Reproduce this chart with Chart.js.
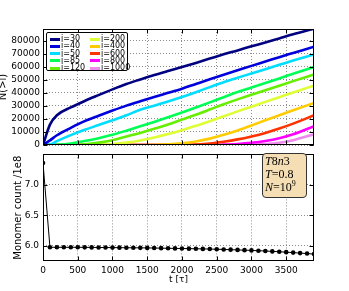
<!DOCTYPE html>
<html>
<head>
<meta charset="utf-8">
<script src="https://cdn.jsdelivr.net/npm/chart.js@4.4.0/dist/chart.umd.min.js"></script>
<style>
  body { margin: 0; background: #fff; }
  #wrap { position: relative; width: 349px; height: 291px; overflow: hidden; font-family: "DejaVu Sans", sans-serif; }
  .box { position: absolute; left: 0; width: 349px; }
  #legend { position: absolute; left: 46px; top: 32px; width: 80px; height: 37px; border: 1px solid #000; border-radius: 2px; background: #fff; }
  .item { position: absolute; font-size: 8px; line-height: 8px; color: #000; white-space: nowrap; }
  .swatch { position: absolute; width: 10px; height: 3px; }
  #note { position: absolute; left: 262px; top: 153px; width: 45px; height: 45px; border: 1px solid #333; border-radius: 4px; background: #f5deb3;
          font-family: "Liberation Serif", serif; font-size: 12px; line-height: 13px; padding: 1px 0 0 2px; box-sizing: border-box; }
  #note i { font-style: italic; }
  #note sup { font-size: 8px; line-height: 0; vertical-align: 5px; }
</style>
</head>
<body>
<div id="wrap">
  <div class="box" style="top:0;height:155px"><canvas id="topChart"></canvas></div>
  <div class="box" style="top:145px;height:146px"><canvas id="botChart"></canvas></div>
  <div id="legend"></div>
  <div id="note"><i>T</i>8<i>n</i>3<br><i>T</i>=0.8<br><i>N</i>=10<sup>9</sup></div>
</div>
<script>
// Top panel: N(>i) for each cluster size i
const iSizes = [30, 40, 50, 85, 120, 200, 400, 600, 800, 1000];
const colors = ["#000080", "#0000dd", "#00ddff", "#00ff55", "#66ee00",
                "#ddff33", "#ffcc00", "#ff3300", "#ff00ff", "#ee88ee"];
const tTop = [0, 100, 200, 400, 600, 800, 1000, 1200, 1400, 1600, 1800, 2000, 2200, 2400, 2600, 2800, 3000, 3200, 3400, 3600, 3900];
const n30   = [0, 15600, 22800, 28800, 33800, 38300, 42700, 46800, 50300, 53700, 56800, 59800, 63000, 66300, 69600, 72600, 75700, 78700, 81800, 84900, 89200];
const n40   = [0, 3500, 7500, 13200, 18300, 22400, 26400, 30200, 33600, 36900, 40000, 43200, 46800, 50400, 53900, 57300, 60700, 64000, 67400, 70600, 75400];
const n50   = [0, 300, 3000, 7600, 11700, 15300, 19000, 22800, 27000, 30200, 33400, 36800, 40500, 44400, 48200, 51600, 54900, 58200, 61500, 64800, 69500];
const n85   = [0, 0, 200, 1200, 3000, 5200, 7800, 11000, 14400, 17700, 21300, 25000, 28800, 32700, 36700, 40600, 44100, 47600, 51100, 54700, 59800];
const n120  = [0, 0, 0, 100, 600, 1800, 3700, 6500, 9300, 12400, 15800, 19500, 23200, 27200, 31300, 35000, 38500, 42000, 45500, 49000, 54100];
const n200  = [0, 0, 0, 0, 0, 200, 700, 1800, 3500, 5800, 8400, 11400, 14700, 18300, 22000, 25800, 29400, 33100, 36700, 40300, 45600];
const n400  = [0, 0, 0, 0, 0, 0, 0, 0, 0, 100, 500, 1300, 2700, 4900, 7800, 11200, 15000, 19000, 22800, 26600, 32300];
const n600  = [0, 0, 0, 0, 0, 0, 0, 0, 0, 0, 0, 100, 400, 1100, 2500, 4300, 6600, 9300, 12600, 16400, 22800];
const n800  = [0, 0, 0, 0, 0, 0, 0, 0, 0, 0, 0, 0, 0, 0, 300, 800, 1700, 3100, 5200, 8200, 14400];
const n1000 = [0, 0, 0, 0, 0, 0, 0, 0, 0, 0, 0, 0, 0, 0, 0, 0, 200, 700, 1700, 3700, 8200];
const topSeries = [n30, n40, n50, n85, n120, n200, n400, n600, n800, n1000];

// Bottom panel: monomer count / 1e8
const tMono = [0, 100, 200, 300, 400, 500, 600, 700, 800, 900, 1000, 1100, 1200, 1300, 1400, 1500, 1600, 1700, 1800, 1900,
               2000, 2100, 2200, 2300, 2400, 2500, 2600, 2700, 2800, 2900, 3000, 3100, 3200, 3300, 3400, 3500, 3600, 3700, 3800, 3900];
const mono = [7.36, 5.975, 5.975, 5.975, 5.975, 5.975, 5.974, 5.973, 5.972, 5.971, 5.970, 5.969, 5.968, 5.967, 5.966, 5.965, 5.963, 5.961, 5.959, 5.957,
              5.955, 5.953, 5.951, 5.949, 5.946, 5.943, 5.940, 5.936, 5.932, 5.928, 5.924, 5.919, 5.914, 5.908, 5.902, 5.895, 5.888, 5.880, 5.872, 5.864];

// Ticks
const xTicks = [0, 500, 1000, 1500, 2000, 2500, 3000, 3500];
const topYTicks = [0, 10000, 20000, 30000, 40000, 50000, 60000, 70000, 80000];
const botYTicks = [6.0, 6.5, 7.0];

const tickFont = { family: "DejaVu Sans", size: 9 };
const gridOpts = { color: "rgba(0,0,0,0.45)", lineWidth: 1, drawTicks: false, borderDash: [1, 2] };
const borderOpts = { display: false, dash: [1, 2] };

// matplotlib style box frame with inward ticks
const framePlugin = {
  id: "frame",
  afterDatasetsDraw(chart) {
    const { ctx, chartArea: a, scales } = chart;
    const L = Math.round(a.left) + 0.5, R = Math.round(a.right) - 0.5;
    const T = Math.round(a.top) + 0.5, B = Math.round(a.bottom) - 0.5;
    ctx.save();
    ctx.strokeStyle = "#000";
    ctx.lineWidth = 1;
    ctx.beginPath();
    scales.x.ticks.forEach((t) => {
      const px = Math.round(scales.x.getPixelForValue(t.value)) + 0.5;
      ctx.moveTo(px, B); ctx.lineTo(px, B - 4);
      ctx.moveTo(px, T); ctx.lineTo(px, T + 4);
    });
    scales.y.ticks.forEach((t) => {
      const py = Math.round(scales.y.getPixelForValue(t.value)) + 0.5;
      ctx.moveTo(L, py); ctx.lineTo(L + 4, py);
      ctx.moveTo(R, py); ctx.lineTo(R - 4, py);
    });
    ctx.stroke();
    ctx.strokeRect(L, T, R - L, B - T);
    ctx.restore();
  },
};

function setTicks(list) {
  return (scale) => { scale.ticks = list.map((v) => ({ value: v })); };
}

new Chart(document.getElementById("topChart"), {
  type: "line",
  data: {
    datasets: topSeries.map((s, k) => ({
      label: "i=" + iSizes[k],
      data: s.map((v, j) => ({ x: tTop[j], y: v })),
      borderColor: colors[k],
      borderWidth: 2.6,
      pointRadius: 0,
      cubicInterpolationMode: "monotone",
      fill: false,
    })),
  },
  options: {
    responsive: true,
    maintainAspectRatio: false,
    animation: false,
    layout: { padding: { top: 29, right: 35, left: 0, bottom: 0 } },
    plugins: { legend: { display: false }, tooltip: { enabled: false } },
    scales: {
      x: {
        type: "linear", min: 0, max: 3900,
        afterBuildTicks: setTicks(xTicks),
        afterFit: (s) => { s.height = 10; },
        ticks: { display: false },
        grid: gridOpts, border: borderOpts,
      },
      y: {
        min: 0, max: 89000,
        afterBuildTicks: setTicks(topYTicks),
        afterFit: (s) => { s.width = 43; },
        ticks: { font: tickFont, color: "#000", padding: 3, callback: (v) => String(v) },
        grid: gridOpts, border: borderOpts,
        title: { display: true, text: "N(>i)", font: { family: "DejaVu Sans", size: 10 }, color: "#000", padding: { top: -3, bottom: 0 } },
      },
    },
  },
  plugins: [framePlugin],
});

new Chart(document.getElementById("botChart"), {
  type: "line",
  data: {
    datasets: [{
      data: tMono.map((t, j) => ({ x: t, y: mono[j] })),
      borderColor: "#000",
      backgroundColor: "#000",
      borderWidth: 1,
      pointRadius: 2.3,
      pointBorderWidth: 0,
      tension: 0,
      fill: false,
    }],
  },
  options: {
    responsive: true,
    maintainAspectRatio: false,
    animation: false,
    layout: { padding: { top: 0, right: 35, left: 0, bottom: 0 } },
    plugins: { legend: { display: false }, tooltip: { enabled: false } },
    scales: {
      x: {
        type: "linear", min: 0, max: 3900,
        afterBuildTicks: setTicks(xTicks),
        afterFit: (s) => { s.height = 30; },
        ticks: { font: tickFont, color: "#000", padding: 4, maxRotation: 0, callback: (v) => String(v) },
        grid: gridOpts, border: borderOpts,
        title: { display: true, text: "t [τ]", font: { family: "DejaVu Sans", size: 9 }, color: "#000", padding: { top: 0, bottom: 6 } },
      },
      y: {
        min: 5.75, max: 7.5,
        afterBuildTicks: setTicks(botYTicks),
        afterFit: (s) => { s.width = 43; },
        ticks: { font: tickFont, color: "#000", padding: 4, callback: (v) => v.toFixed(1) },
        grid: gridOpts, border: borderOpts,
        title: { display: true, text: "Monomer count /1e8", font: { family: "DejaVu Sans", size: 10 }, color: "#000", padding: { top: 12, bottom: 0 } },
      },
    },
  },
  plugins: [framePlugin],
});

// Two-column legend (column-major like the original)
const legend = document.getElementById("legend");
iSizes.forEach((size, k) => {
  const col = Math.floor(k / 5), row = k % 5;
  const cx = col === 0 ? 3 : 43, cy = 6 + row * 7.25;
  const sw = document.createElement("div");
  sw.className = "swatch";
  sw.style.left = cx + "px";
  sw.style.top = (cy - 1.5) + "px";
  sw.style.background = colors[k];
  legend.appendChild(sw);
  const lab = document.createElement("div");
  lab.className = "item";
  lab.style.left = (cx + 11) + "px";
  lab.style.top = (cy - 4) + "px";
  lab.textContent = "i=" + size;
  legend.appendChild(lab);
});
</script>
</body>
</html>
